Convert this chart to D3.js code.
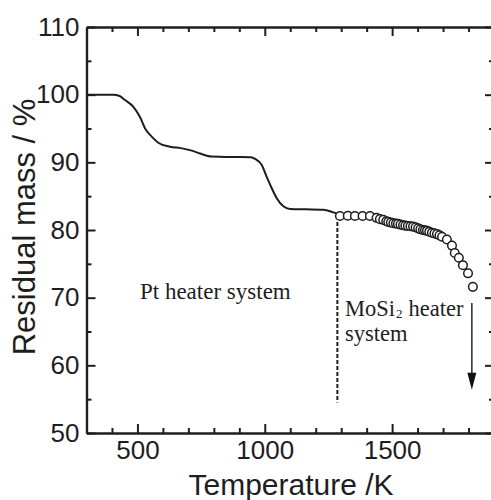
<!DOCTYPE html>
<html>
<head>
<meta charset="utf-8">
<script src="https://cdn.jsdelivr.net/npm/d3@7"></script>
<style>
  html, body { margin: 0; padding: 0; background: #fff; }
  svg { display: block; }
</style>
</head>
<body>
<svg id="chart" width="491" height="500"></svg>
<script>
// ---- data ----
const ptTemp = [300, 405, 430, 451, 484, 510, 530, 556, 582, 628, 670, 706, 746, 770, 790, 850, 903, 945, 962, 988, 1007, 1027, 1047, 1073, 1099, 1160, 1230, 1269, 1292];
const ptMass = [100, 100, 99.8, 99.2, 98.2, 96.7, 95.0, 93.8, 92.9, 92.3, 92.1, 91.8, 91.3, 91.0, 90.85, 90.8, 90.8, 90.75, 90.5, 89.6, 87.9, 86.2, 84.7, 83.5, 83.1, 83.05, 83.0, 82.6, 82.3];

const moTemp = [1295, 1326, 1354, 1384, 1413, 1439, 1452, 1465, 1477, 1485, 1495, 1505, 1515, 1523, 1533, 1543, 1552, 1562, 1572, 1582, 1592, 1602, 1611, 1621, 1629, 1637, 1646, 1656, 1666, 1676, 1686, 1696, 1715, 1735, 1746, 1762, 1778, 1798, 1817];
const moMass = [82.07, 82.1, 82.07, 82.07, 82.07, 81.8, 81.6, 81.5, 81.3, 81.2, 81.1, 81.0, 80.95, 80.9, 80.8, 80.7, 80.65, 80.6, 80.55, 80.5, 80.4, 80.25, 80.1, 80.0, 79.95, 79.9, 79.75, 79.6, 79.5, 79.4, 79.2, 79.0, 78.6, 77.7, 76.6, 75.9, 74.8, 73.6, 71.6];

const xMajorTicks = [500, 1000, 1500];
const xMinorTicks = [400, 600, 700, 800, 900, 1100, 1200, 1300, 1400, 1600, 1700, 1800];
const yMajorTicks = [50, 60, 70, 80, 90, 100, 110];
const yMinorTicks = [55, 65, 75, 85, 95, 105];

const divider = { temp: 1285, from: 81.2, to: 54.5 };
const arrow = { temp: 1813, from: 69.2, to: 56.4 };
const ptLabel = { text: "Pt heater system", temp: 510, mass: 69.8 };
const moLabel = { main: "MoSi", sub: "2", rest: "heater", line2: "system", temp: 1315, mass: 67.3, mass2: 63.6 };

// ---- layout ----
const svg = d3.select("#chart");
const pLeft = 86.5, pRight = 494, pTop = 27, pBottom = 433;
const x = d3.scaleLinear().domain([300, 1900]).range([pLeft, pRight]);
const y = d3.scaleLinear().domain([50, 110]).range([pBottom, pTop]);
const ink = "#1e1e1e";
const sans = "'Liberation Sans', Arial, sans-serif";
const serif = "'Liberation Serif', 'Times New Roman', serif";

function styleAxis(g, showLabels) {
  g.select(".domain").attr("stroke", ink).attr("stroke-width", 2.2);
  g.selectAll(".tick line").attr("stroke", ink).attr("stroke-width", 2);
  g.selectAll(".tick text")
    .attr("fill", ink)
    .style("font-family", sans)
    .style("font-size", "26px");
  if (!showLabels) g.selectAll(".tick text").remove();
}

// minor ticks
svg.append("g").attr("transform", `translate(0,${pBottom})`)
  .call(d3.axisBottom(x).tickValues(xMinorTicks).tickSize(-5).tickSizeOuter(0).tickFormat(""))
  .call(g => styleAxis(g, false));
svg.append("g").attr("transform", `translate(0,${pTop})`)
  .call(d3.axisTop(x).tickValues(xMinorTicks).tickSize(-5).tickSizeOuter(0).tickFormat(""))
  .call(g => styleAxis(g, false));
svg.append("g").attr("transform", `translate(${pLeft},0)`)
  .call(d3.axisLeft(y).tickValues(yMinorTicks).tickSize(-5).tickSizeOuter(0).tickFormat(""))
  .call(g => styleAxis(g, false));
svg.append("g").attr("transform", `translate(${pRight},0)`)
  .call(d3.axisRight(y).tickValues(yMinorTicks).tickSize(-5).tickSizeOuter(0).tickFormat(""))
  .call(g => styleAxis(g, false));

// major ticks
svg.append("g").attr("transform", `translate(0,${pBottom})`)
  .call(d3.axisBottom(x).tickValues(xMajorTicks).tickSize(-9).tickSizeOuter(0).tickPadding(8).tickFormat(d3.format("d")))
  .call(g => styleAxis(g, true));
svg.append("g").attr("transform", `translate(0,${pTop})`)
  .call(d3.axisTop(x).tickValues(xMajorTicks).tickSize(-9).tickSizeOuter(0).tickFormat(""))
  .call(g => styleAxis(g, false));
svg.append("g").attr("transform", `translate(${pLeft},0)`)
  .call(d3.axisLeft(y).tickValues(yMajorTicks).tickSize(-9).tickSizeOuter(0).tickPadding(7).tickFormat(d3.format("d")))
  .call(g => styleAxis(g, true));
svg.append("g").attr("transform", `translate(${pRight},0)`)
  .call(d3.axisRight(y).tickValues(yMajorTicks).tickSize(-9).tickSizeOuter(0).tickFormat(""))
  .call(g => styleAxis(g, false));

// axis titles
svg.append("text")
  .attr("x", 291).attr("y", 495)
  .attr("text-anchor", "middle")
  .attr("fill", ink)
  .style("font-family", sans).style("font-size", "30px")
  .text("Temperature /K");
svg.append("text")
  .attr("transform", "translate(35,227) rotate(-90)")
  .attr("text-anchor", "middle")
  .attr("fill", ink)
  .style("font-family", sans).style("font-size", "31px")
  .text("Residual mass / %");

// Pt heater curve
const ptData = ptTemp.map((t, i) => ({ t, m: ptMass[i] }));
svg.append("path")
  .datum(ptData)
  .attr("fill", "none")
  .attr("stroke", ink)
  .attr("stroke-width", 2)
  .attr("d", d3.line().x(d => x(d.t)).y(d => y(d.m)).curve(d3.curveMonotoneX));

// divider dashed line
svg.append("line")
  .attr("x1", x(divider.temp)).attr("x2", x(divider.temp))
  .attr("y1", y(divider.from)).attr("y2", y(divider.to))
  .attr("stroke", ink).attr("stroke-width", 2)
  .attr("stroke-dasharray", "4,2");

// MoSi2 circles
const moData = moTemp.map((t, i) => ({ t, m: moMass[i] }));
svg.append("g").selectAll("circle")
  .data(moData)
  .join("circle")
  .attr("cx", d => x(d.t))
  .attr("cy", d => y(d.m))
  .attr("r", 4.3)
  .attr("fill", "#fff")
  .attr("stroke", ink)
  .attr("stroke-width", 1.5);

// arrow
const ax = x(arrow.temp), ay1 = y(arrow.from), ay2 = y(arrow.to);
svg.append("line")
  .attr("x1", ax).attr("x2", ax)
  .attr("y1", ay1).attr("y2", ay2 - 14)
  .attr("stroke", "#333").attr("stroke-width", 1.6);
svg.append("path")
  .attr("d", `M${ax - 4.5},${ay2 - 17} L${ax + 4.5},${ay2 - 17} L${ax},${ay2} Z`)
  .attr("fill", "#111");

// annotations
function serifText(tx, ty, str, size) {
  return svg.append("text")
    .attr("x", tx).attr("y", ty)
    .attr("fill", ink)
    .style("font-family", serif).style("font-size", size + "px")
    .text(str);
}
serifText(x(ptLabel.temp), y(ptLabel.mass), ptLabel.text, 23);

const mx = x(moLabel.temp), my = y(moLabel.mass);
const t1 = serifText(mx, my, moLabel.main, 22.5);
const w1 = t1.node().getComputedTextLength();
const t2 = serifText(mx + w1 + 1, my + 2, moLabel.sub, 13);
const w2 = t2.node().getComputedTextLength();
serifText(mx + w1 + 1 + w2 + 6, my, moLabel.rest, 22.5);
serifText(mx, y(moLabel.mass2), moLabel.line2, 22.5);
</script>
</body>
</html>
